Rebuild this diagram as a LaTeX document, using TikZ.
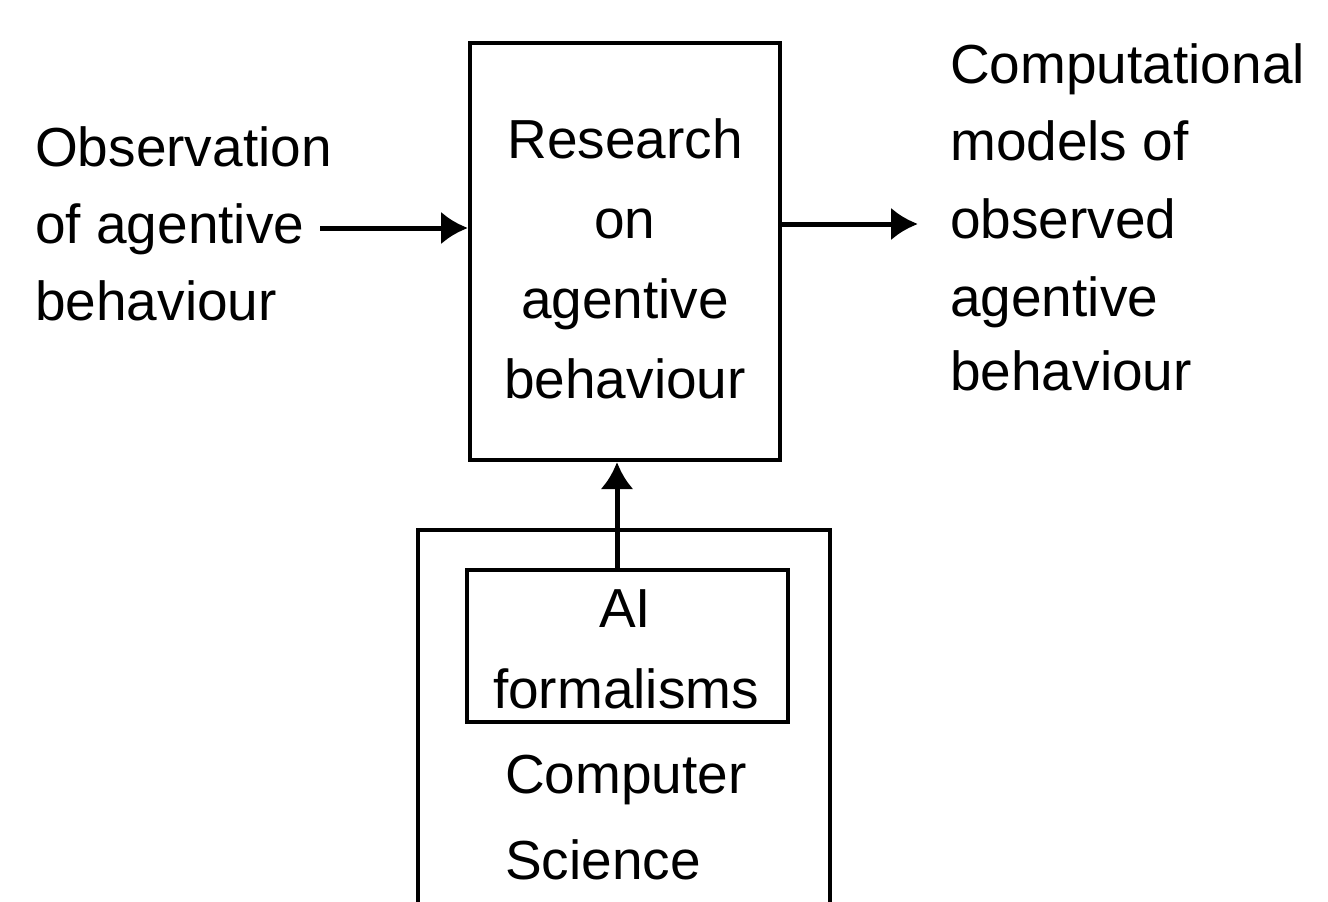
\documentclass[tikz,border=0pt]{standalone}
\usepackage{fontspec}
\setmainfont{Liberation Sans}
\usetikzlibrary{arrows.meta}
\begin{document}
\begin{tikzpicture}[x=1pt,y=-1pt,
  txt/.style={inner sep=0pt,font=\fontsize{55}{66}\selectfont},
  box/.style={draw,line width=4pt,inner sep=0pt},
  arr/.style={line width=5pt,-{Latex[length=27pt,width=33pt]}}]
\useasboundingbox (0,0) rectangle (1328,902);
\begin{scope}
\clip (0,0) rectangle (1328,902);
% boxes
\node[box,minimum width=310pt,minimum height=417pt] (res) at (625,251.5) {};
\node[box,minimum width=412pt,minimum height=460pt] (outer) at (624,760) {};
\node[box,minimum width=321pt,minimum height=152pt] (inner) at (627.5,646) {};
\end{scope}
% left text
\node[txt,anchor=base west] (l1) at (35,166) {Observation};
\node[txt,anchor=base west] (l2) at (35,243) {of agentive};
\node[txt,anchor=base west] (l3) at (35,320) {behaviour};
% research text
\node[txt,anchor=base] (r1) at (625,158) {Research};
\node[txt,anchor=base] (r2) at (625,238) {on};
\node[txt,anchor=base] (r3) at (625,318) {agentive};
\node[txt,anchor=base] (r4) at (625,398) {behaviour};
% right text
\node[txt,anchor=base west] (c1) at (950,83) {Computational};
\node[txt,anchor=base west] (c2) at (950,160) {models of};
\node[txt,anchor=base west] (c3) at (950,238) {observed};
\node[txt,anchor=base west] (c4) at (950,316) {agentive};
\node[txt,anchor=base west] (c5) at (950,390) {behaviour};
% inner text
\node[txt,anchor=base] (a1) at (625,627) {AI};
\node[txt,anchor=base] (a2) at (626,708) {formalisms};
\node[txt,anchor=base west] (s1) at (505,793) {Computer};
\node[txt,anchor=base west] (s2) at (505,879) {Science};
% arrows
\coordinate (lstart) at (320,228);
\coordinate (rstart) at (793,224);
\coordinate (rend) at (918,224);
\draw[arr] (lstart) -- (lstart -| res.west);
\draw[arr] (rstart -| res.east) -- (rend);
\draw[arr] (inner.north -| 617,0) -- (res.south -| 617,0);
\end{tikzpicture}
\end{document}
